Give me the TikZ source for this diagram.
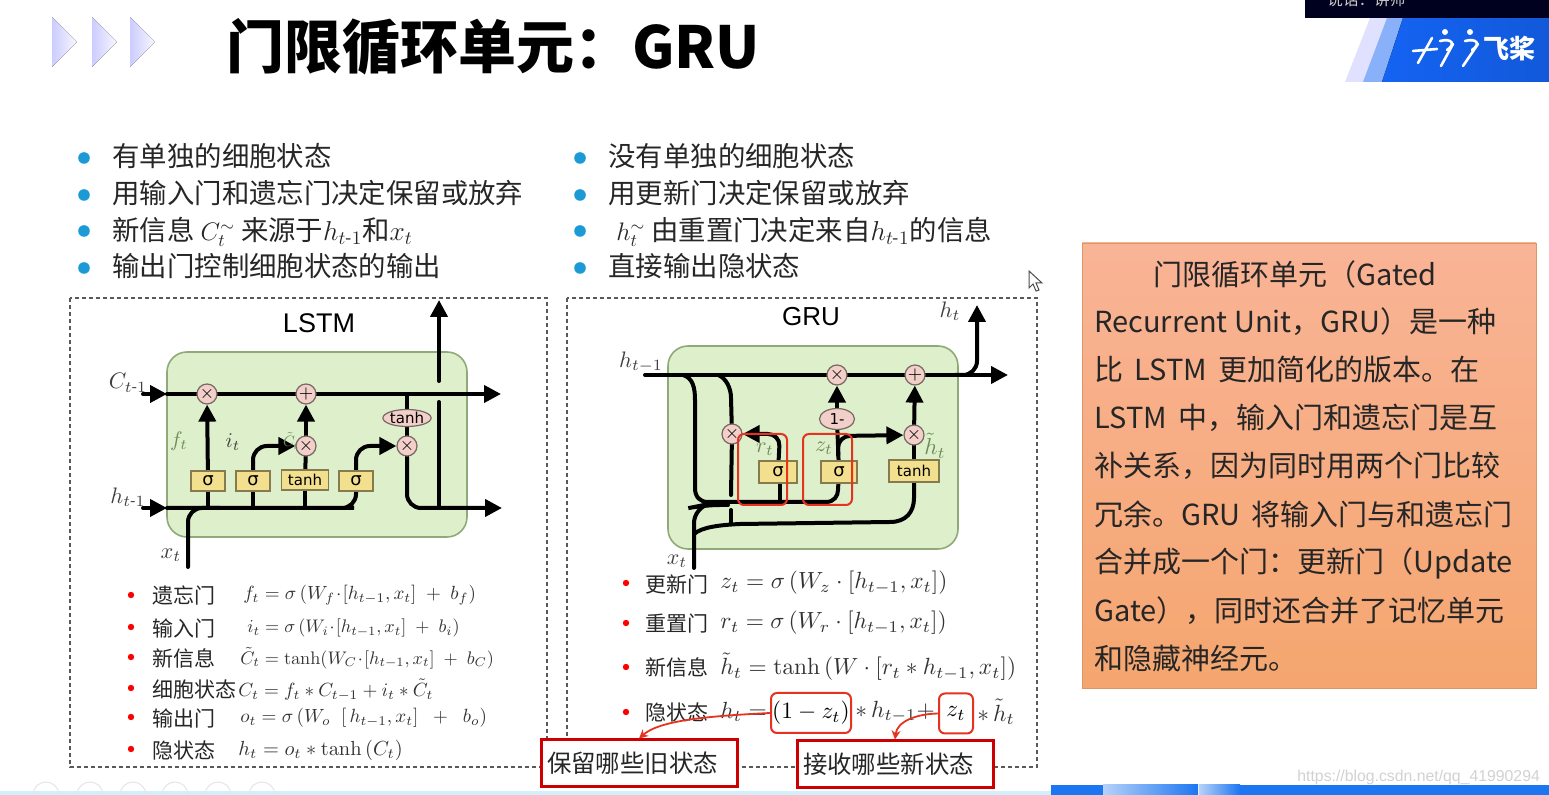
\documentclass[tikz,border=0pt]{standalone}
\usepackage{amsmath}
\usepackage{graphicx}
\usepackage[no-math]{fontspec}
\setmainfont{Noto Sans CJK SC}
\newfontfamily\gatefont{DejaVu Sans}
\newfontfamily\cellfont{Liberation Sans}
\usetikzlibrary{arrows.meta,backgrounds,shapes.geometric}
\definecolor{cellgreen}{HTML}{DDEFCB}
\definecolor{celledge}{HTML}{8FAA78}
\definecolor{gateyellow}{HTML}{F3E08E}
\definecolor{opnpink}{HTML}{F2CFC9}
\definecolor{bulletblue}{HTML}{1C9AD6}
\definecolor{markred}{HTML}{E5331F}
\definecolor{labelgreen}{HTML}{6F8A5A}
\definecolor{logoblue}{HTML}{1463F2}
\definecolor{stripblue}{HTML}{1C76F2}
\definecolor{stripnale}{HTML}{B5D2F9}
\definecolor{notetop}{HTML}{F9B496}
\definecolor{notebottom}{HTML}{F5A66F}
\newcommand{\gapsp}{\hspace{.38em}}
\tikzset{
	wire/.style={line width=2pt, line cap=round},
	flow/.style={wire, -{Triangle[width=8.5pt,length=8.5pt]}},
	cellbox/.style={draw=celledge, fill=cellgreen, line width=.8pt, rounded corners=10pt},
	gatebox/.style={draw=gateyellow!55!black, fill=gateyellow, line width=.6pt, inner sep=0pt, font=\gatefont\fontsize{9}{10}\selectfont},
	opn/.style={circle, draw=opnpink!50!black, fill=opnpink, line width=.6pt, inner sep=0pt, minimum size=10pt, font=\fontsize{9}{10}\selectfont},
	opnoval/.style={ellipse, draw=opnpink!50!black, fill=opnpink, line width=.6pt, inner sep=0pt, font=\gatefont\fontsize{7.5}{9}\selectfont},
	tag/.style={inner sep=0pt, text=black!75},
	taggreen/.style={inner sep=0pt, text=labelgreen},
	line/.style={anchor=west, inner sep=0pt, font=\fontsize{13.7}{16}\selectfont, text=black!85},
	small/.style={anchor=west, inner sep=0pt, font=\fontsize{10.5}{12}\selectfont, text=black!85},
	eqn/.style={anchor=west, inner sep=0pt, text=black!80},
	bigeqn/.style={anchor=west, inner sep=0pt, scale=1.17, text=black!80},
	panel/.style={draw=black!65, dash pattern=on 2.2pt off 1.3pt, line width=.6pt},
	markbox/.style={draw=markred, line width=1pt, rounded corners=3pt, inner sep=0pt},
	callout/.style={draw=red!80!black, fill=white, line width=1.5pt, inner ysep=0pt, inner xsep=3pt, text width=92pt, align=left, font=\fontsize{12.2}{14}\selectfont, text=black!85},
	bubble/.style={anchor=west, inner sep=0pt, font=\fontsize{14.5}{17}\selectfont, text=black!85}
}
\begin{document}
\begin{tikzpicture}[x=.5pt, y=-.5pt]
	\useasboundingbox (0,0) rectangle (1549,795);
	% header
	\foreach \x in {52,92,130}
		\fill[left color=blue!20, right color=blue!3] (\x,17) -- (\x+25,42) -- (\x,67) -- cycle;
	\node[anchor=west, inner sep=0pt, font=\bfseries\fontsize{29}{32}\selectfont] (title) at (226,47) {门限循环单元：GRU};
	\fill[blue!12] (1345,82) -- (1370,18) -- (1392,18) -- (1367,82) -- cycle;
	\fill[logoblue!50] (1363,82) -- (1387,18) -- (1408,18) -- (1384,82) -- cycle;
	\fill[left color=logoblue, right color=logoblue!90!black] (1382,82) -- (1403,18) -- (1549,18) -- (1549,82) -- cycle;
	\fill[black!88!blue] (1305,0) rectangle (1549,18);
	\node[anchor=west, inner sep=0pt, text=black!20, font=\fontsize{7.8}{9}\selectfont] (speaker) at (1327,0) {说话：讲师};
	\draw[white, line width=1.3pt, line cap=round]
		(1413,51) -- (1437,49) (1432,38) -- (1418,63)
		(1440,41) .. controls (1452,38) and (1456,44) .. (1447,50) (1453,44) -- (1441,66)
		(1465,41) .. controls (1477,38) and (1481,44) .. (1472,50) (1478,44) -- (1463,66);
	\fill[white] (1445,32) circle [radius=1.5pt] (1470,32) circle [radius=1.5pt];
	\node[anchor=west, inner sep=0pt, text=white, font=\bfseries\fontsize{13}{14}\selectfont] (brand) at (1483,49) {飞桨};
	% lists above the panels
	\foreach \y in {158,195,231,268} {
		\fill[bulletblue] (84,\y) circle [radius=2.9pt];
		\fill[bulletblue] (580,\y) circle [radius=2.9pt];
	}
	\node[line] (la) at (112,156) {有单独的细胞状态};
	\node[line] (lb) at (112,193) {用输入门和遗忘门决定保留或放弃};
	\node[line] (lc) at (112,232) {新信息 \scalebox{.88}{$C_t^{\sim}$} 来源于\scalebox{.95}{$h_{t\text{-}1}$}和\scalebox{.95}{$x_t$}};
	\node[line] (ld) at (112,266) {输出门控制细胞状态的输出};
	\node[line] (ra) at (608,156) {没有单独的细胞状态};
	\node[line] (rb) at (608,193) {用更新门决定保留或放弃};
	\node[line] (rc) at (616,232) {\scalebox{.88}{$h_t^{\sim}$} 由重置门决定来自\scalebox{.95}{$h_{t\text{-}1}$}的信息};
	\node[line] (rd) at (608,266) {直接输出隐状态};
	% panels
	\draw[panel] (70,298) rectangle (547,767);
	\draw[panel] (567,298) rectangle (1037,767);
	\node[inner sep=0pt, font=\cellfont\fontsize{13.5}{15}\selectfont] (lstmname) at (319,323) {LSTM};
	\node[inner sep=0pt, font=\cellfont\fontsize{13}{15}\selectfont] (gruname) at (811,317) {GRU};
	% LSTM cell
	\node[opn] (lmula) at (207,394) {$\times$};
	\node[opn] (lplus) at (306,394) {$+$};
	\node[opn] (lmulb) at (306,446) {$\times$};
	\node[opn] (lmulc) at (407,446) {$\times$};
	\node[opnoval, minimum width=23.5pt, minimum height=8.5pt] (ltanh) at (407,418) {tanh};
	\node[gatebox, minimum width=17pt, minimum height=10pt] (lsiga) at (208,481) {σ};
	\node[gatebox, minimum width=17pt, minimum height=10pt] (lsigb) at (253,481) {σ};
	\node[gatebox, minimum width=23.5pt, minimum height=10pt, font=\gatefont\fontsize{7.5}{9}\selectfont] (lgate) at (305,480) {tanh};
	\node[gatebox, minimum width=17pt, minimum height=10pt] (lsigc) at (356,481) {σ};
	\coordinate (cin) at (143,394);
	\coordinate (cstart) at (167,394);
	\coordinate (cout) at (501,394);
	\coordinate (hin) at (143,508);
	\coordinate (hstart) at (167,508);
	\coordinate (hout) at (502,508);
	\coordinate (xin) at (188,567);
	\coordinate (up) at (439,300);
	\node[tag, scale=1.12] (lc0) at (128,383) {$C_{t\text{-}1}$};
	\node[tag, scale=1.12] (lh0) at (128,497) {$h_{t\text{-}1}$};
	\node[tag, scale=1.12] (lx0) at (171,555) {$x_t$};
	\node[taggreen, scale=1.05] (lf) at (179,441) {$f_t$};
	\node[tag, scale=1.05] (li) at (233,442) {$i_t$};
	\node[taggreen, scale=.75] (lct) at (291,441) {$\tilde{C}_t$};
	% GRU cell
	\node[opn] (gmula) at (837,375) {$\times$};
	\node[opn] (gplus) at (915,375) {$+$};
	\node[opn] (gmulb) at (732,434) {$\times$};
	\node[opn] (gmulc) at (914,435) {$\times$};
	\node[opnoval, minimum width=17.5pt, minimum height=10.5pt] (gone) at (837,419) {1-};
	\node[gatebox, minimum width=19pt, minimum height=11pt] (gsigr) at (778,472) {σ};
	\node[gatebox, minimum width=18pt, minimum height=11pt] (gsigz) at (839,472) {σ};
	\node[gatebox, minimum width=25pt, minimum height=11pt, font=\gatefont\fontsize{7.5}{9}\selectfont] (ggate) at (914,471) {tanh};
	\coordinate (gin) at (645,375);
	\coordinate (gout) at (1008,375);
	\coordinate (gup) at (977,305);
	\coordinate (gxin) at (694,568);
	\node[tag, scale=1.12] (gh0) at (641,362) {$h_{t-1}$};
	\node[tag, scale=1.12] (ght) at (950,311) {$h_t$};
	\node[tag, scale=1.1] (gx0) at (677,561) {$x_t$};
	\node[taggreen, scale=1.1] (gr) at (765,449) {$r_t$};
	\node[taggreen, scale=1.1] (gz) at (824,448) {$z_t$};
	\node[taggreen, scale=1.15] (gh) at (935,446) {$\tilde{h}_t$};
	\node[markbox, minimum width=24.5pt, minimum height=35.5pt] (markr) at (762.5,469.5) {};
	\node[markbox, minimum width=24.5pt, minimum height=35.5pt] (markz) at (827.5,469.5) {};
	\begin{scope}[on background layer]
		\node[cellbox, minimum width=150pt, minimum height=92.5pt] (lstmcell) at (317,444.5) {};
		\draw[wire] (cstart) -- (lmula) -- (lplus);
		\draw[flow] (lplus) -- (cout);
		\draw[flow] (cin) -- (cstart);
		\draw[flow] (hin) -- (hstart);
		\draw[flow] (lsiga) -- (lmula);
		\draw[flow] (lmulb) -- (lplus);
		\draw[wire] (lgate) -- (lmulb);
		\draw[wire] (ltanh) -- (407,394);
		\draw[wire] (ltanh) -- (lmulc);
		\draw[wire, rounded corners=7pt] (hstart) -- (340,508) -| (lsigc);
		\foreach \g in {lsiga,lsigb,lgate}
			\draw[wire] (hstart -| \g) -- (\g);
		\draw[flow, rounded corners=7pt] (lsigb) |- (lmulb);
		\draw[flow, rounded corners=7pt] (lsigc) |- (lmulc);
		\draw[flow, rounded corners=7pt] (lmulc) |- (hout);
		\draw[wire] (439,508) -- (439,402);
		\draw[flow] (439,381) -- (up);
		\draw[wire, rounded corners=7pt] (xin) |- (220,508);
		\node[cellbox, minimum width=145pt, minimum height=101.5pt] (grucell) at (813,447.5) {};
		\draw[wire] (gin) -- (gmula);
		\draw[wire] (gmula) -- (gplus);
		\draw[flow] (gplus) -- (gout);
		\draw[flow, rounded corners=7pt] (955,375) -| (gup);
		\draw[wire] (683,375) .. controls (693,378) and (695,388) .. (695,400) -- (695,488) .. controls (695,497) and (700,502) .. (708,502) -- (826,502) .. controls (834,502) and (838,496) .. (838,490) -- (gsigz);
		\draw[wire] (718,375) .. controls (726,378) and (731,388) .. (731,398) -- (gmulb) -- (731,495);
		\draw[wire] (731,510) -- (731,524);
		\draw[flow, rounded corners=6pt] (gsigr) -- (780,434) -- (gmulb);
		\draw[wire] (780,483) -- (780,502);
		\draw[wire] (gsigz) -- (gone);
		\draw[flow] (gone) -- (gmula);
		\draw[flow, rounded corners=6pt] (838,455) -- (838,436) -- (gmulc);
		\draw[flow] (gmulc) -- (gplus);
		\draw[wire] (ggate) -- (gmulc);
		\draw[wire, rounded corners=8pt] (gxin) -- (694,507) -- (704,505) -- (728,505);
		\draw[wire] (694,534) .. controls (702,527) and (720,525) .. (740,524) -- (890,522) .. controls (906,522) and (914,512) .. (914,498) -- (ggate);
	\end{scope}
	% formulas below the LSTM
	\foreach \y in {595,627,657,688,717,749}
		\fill[red] (131,\y) circle [radius=1.6pt];
	\foreach \y/\n/\t in {595/a/遗忘门,628/b/输入门,658/c/新信息,690/d/细胞状态,718/e/输出门,750/f/隐状态}
		\node[small] (ln\n) at (152,\y) {\t};
	\node[eqn, scale=.955] (efa) at (243,595) {$f_t=\sigma\left(W_f\!\cdot\![h_{t-1},x_t]\;+\;b_f\right)$};
	\node[eqn, scale=.91] (efb) at (247,628) {$i_t=\sigma\left(W_i\!\cdot\![h_{t-1},x_t]\;+\;b_i\right)$};
	\node[eqn, scale=.91] (efc) at (240,658) {$\tilde{C}_t=\tanh(W_C\!\cdot\![h_{t-1},x_t]\;+\;b_C)$};
	\node[eqn, scale=.955] (efd) at (238,690) {$C_t=f_t*C_{t-1}+i_t*\tilde{C}_t$};
	\node[eqn, scale=.955] (efe) at (240,718) {$o_t=\sigma\left(W_o\;\;[\,h_{t-1},x_t]\;\;+\;\;b_o\right)$};
	\node[eqn, scale=1.02] (eff) at (238,750) {$h_t=o_t*\tanh\left(C_t\right)$};
	% formulas below the GRU
	\foreach \y in {583,623,667,712}
		\fill[red] (626,\y) circle [radius=1.6pt];
	\foreach \y/\n/\t in {584/a/更新门,624/b/重置门,667/c/新信息,712/d/隐状态}
		\node[small] (gn\n) at (645,\y) {\t};
	\node[bigeqn] (gfa) at (720,583) {$z_t=\sigma\left(W_z\cdot[h_{t-1},x_t]\right)$};
	\node[bigeqn] (gfb) at (720,623) {$r_t=\sigma\left(W_r\cdot[h_{t-1},x_t]\right)$};
	\node[bigeqn] (gfc) at (720,667) {$\tilde{h}_t=\tanh\left(W\cdot[r_t*h_{t-1},x_t]\right)$};
	\node[bigeqn] (gfd) at (720,712) {$h_t=$};
	\node[markbox, minimum width=40pt, minimum height=20pt] (keep) at (811,713) {\scalebox{1.17}{$(1-z_t)$}};
	\node[bigeqn] (gfe) at (855,712) {$*\,h_{t-1}+$};
	\node[markbox, minimum width=17pt, minimum height=20pt] (recv) at (956,713.5) {\scalebox{1.17}{$z_t$}};
	\node[bigeqn] (gff) at (977,712) {$*\,\tilde{h}_t$};
	\node[callout, minimum height=23.5pt] (oldbox) at (639,763.5) {保留哪些旧状态};
	\node[callout, minimum height=23.5pt] (newbox) at (895,764.5) {接收哪些新状态};
	\draw[markred, line width=.9pt, -{Stealth[length=4.5pt,width=4.5pt]}] (keep.west) .. controls (710,716) and (660,720) .. (oldbox.north);
	\draw[markred, line width=.9pt, -{Stealth[length=4.5pt,width=4.5pt]}] (recv.west) .. controls (915,714) and (897,722) .. (newbox.north);
	% text box on the right
	\node[draw=notebottom!90!black, top color=notetop, bottom color=notebottom, minimum width=227pt, minimum height=222.5pt, inner sep=0pt] (note) at (1309,465.5) {};
	\foreach \x/\y/\n/\t in {
		1153/274/a/{门限循环单元（Gated},
		1094/322/b/{Recurrent Unit，GRU）是一种},
		1094/370/c/{比\gapsp LSTM\gapsp 更加简化的版本。在},
		1094/418/d/{LSTM\gapsp 中，输入门和遗忘门是互},
		1094/466/e/{补关系，因为同时用两个门比较},
		1094/514/f/{冗余。GRU\gapsp 将输入门与和遗忘门},
		1094/563/g/{合并成一个门：更新门（Update},
		1094/611/h/{Gate），同时还合并了记忆单元},
		1094/659/i/{和隐藏神经元。}}
		\node[bubble] (note\n) at (\x,\y) {\t};
	% pointer
	\draw[black!70, fill=white, line width=.5pt] (1029,271) -- (1029,288) -- (1033,284) -- (1036,291) -- (1039,290) -- (1036,283) -- (1042,283) -- cycle;
	% bottom strip
	\fill[cyan!18] (0,791) rectangle (1051,795);
	\foreach \x in {46,90,133,175,218,262}
		\draw[black!10, line width=.5pt] (\x,795) circle [radius=6.5pt];
	\fill[stripblue] (1051,785) rectangle (1103,795);
	\fill[left color=stripnale, right color=stripblue] (1103,785) rectangle (1198,795);
	\fill[left color=stripnale, right color=stripblue] (1199,785) rectangle (1240,795);
	\fill[stripblue] (1240,785) rectangle (1549,795);
	\node[anchor=west, inner sep=0pt, text=black!18, font=\cellfont\fontsize{7.9}{10}\selectfont] (mark) at (1297,777) {https://blog.csdn.net/qq\_41990294};
\end{tikzpicture}
\end{document}
